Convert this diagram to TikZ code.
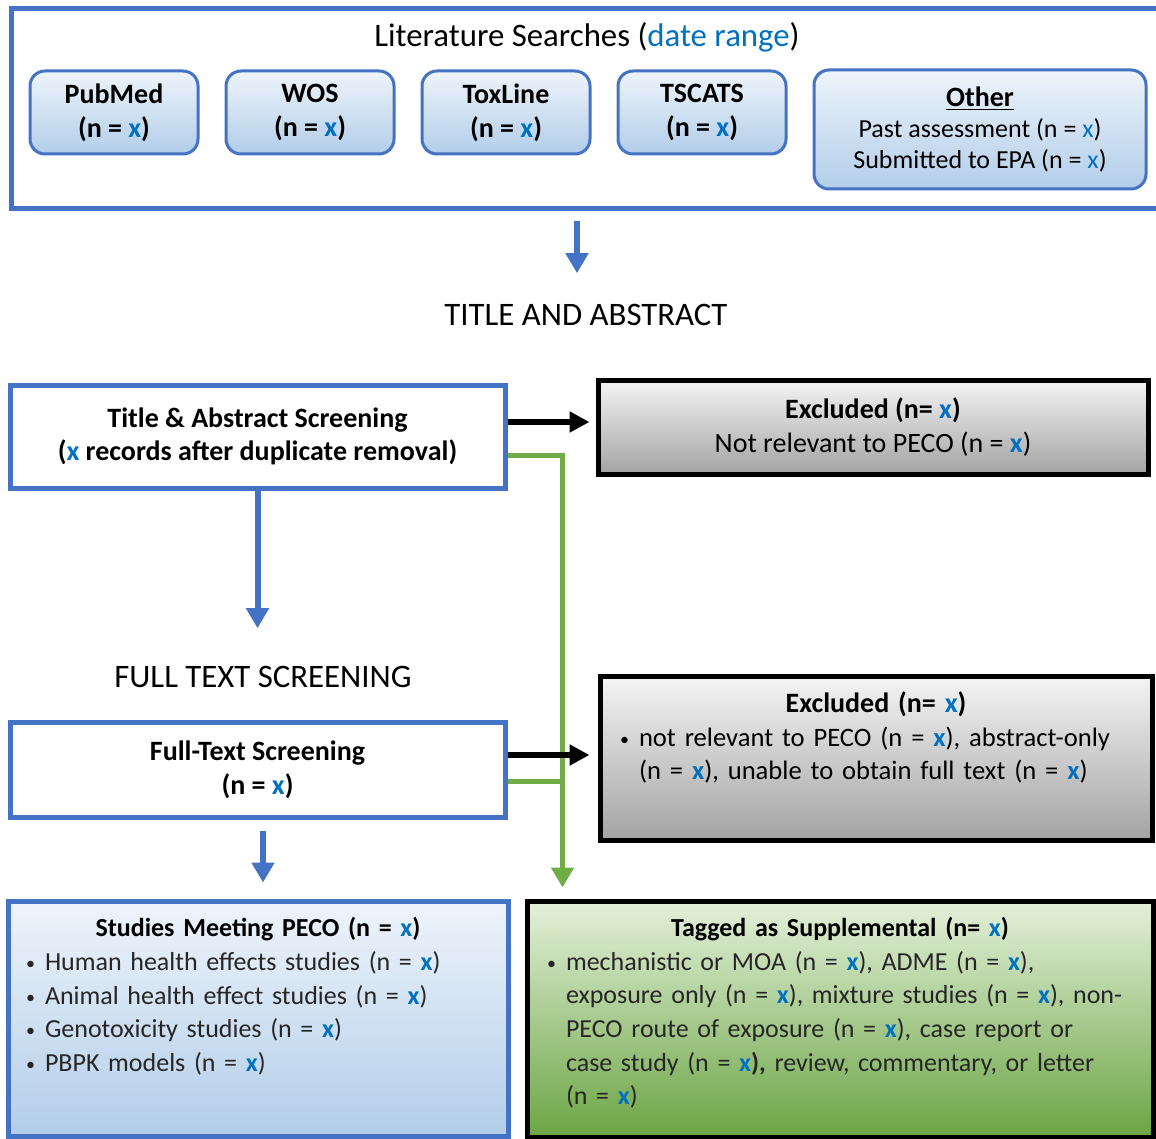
\documentclass[tikz,border=0pt]{standalone}
\usepackage{fontspec}
\setmainfont{Carlito}
\usetikzlibrary{arrows.meta, positioning, calc}
\definecolor{epablue}{HTML}{4472C4}
\definecolor{epagreen}{HTML}{70AD47}
\definecolor{xblue}{HTML}{0070C0}
\definecolor{boxtop}{HTML}{EEF4FB}
\definecolor{boxbot}{HTML}{B2CDE9}
\definecolor{graytop}{HTML}{F4F4F4}
\definecolor{graybot}{HTML}{A3A3A3}
\definecolor{greentop}{HTML}{E4F0DA}
\definecolor{greenbot}{HTML}{6BA544}
\definecolor{textgray}{HTML}{262626}
\newcommand{\xval}{\textcolor{xblue}{x}}
\newcommand{\xbold}{\textcolor{xblue}{\textbf{x}}}
\newcommand{\bul}{\makebox[9.5pt][l]{\raisebox{0.5pt}{\fontsize{9}{9}\selectfont\textbullet}}}
\newcommand{\bulskip}{\hspace*{9.5pt}}

\tikzset{
  basefont/.style={font=\fontsize{13}{16.8}\selectfont},
  bigfont/.style={font=\fontsize{14}{16.8}\selectfont},
  dbbox/.style={draw=epablue, line width=1.5pt, rounded corners=7.5pt,
    top color=boxtop, bottom color=boxbot, minimum width=84pt,
    minimum height=41.5pt, align=center, inner sep=0pt, bigfont},
  stepbox/.style={draw=epablue, line width=2.5pt, fill=white,
    minimum width=247.5pt, align=center, inner sep=0pt, bigfont},
  exclbox/.style={draw=black, line width=2.5pt, top color=graytop,
    bottom color=graybot, inner sep=0pt, bigfont},
  heading/.style={font=\fontsize{16.4}{18}\selectfont},
  bluearrow/.style={draw=epablue, line width=3pt, -{Triangle[length=10pt,width=11pt]}},
  blackarrow/.style={draw=black, line width=3pt, -{Triangle[length=10pt,width=10pt]}},
  greenline/.style={draw=epagreen, line width=2.5pt, -{Triangle[length=10pt,width=11pt]}},
}

\begin{document}
\begin{tikzpicture}[x=0.5pt, y=-0.5pt]
    \useasboundingbox (0,0) rectangle (1156,1139);

    % literature searches
    \node[draw=epablue, line width=2.5pt, minimum width=581pt, minimum height=100pt,
      anchor=north west, inner sep=0pt] (search) at (9,6) {};
    \node[heading] (searchtitle) at (587,37)
      {Literature Searches (\textcolor{xblue}{date range})};

    \node[dbbox] (pubmed) at (114,112.5) {\textbf{PubMed}\\\textbf{(n = \xval)}};
    \node[dbbox, right=12.5pt of pubmed] (wos) {\textbf{WOS}\\\textbf{(n = \xval)}};
    \node[dbbox, right=12.5pt of wos] (toxline) {\textbf{ToxLine}\\\textbf{(n = \xval)}};
    \node[dbbox, right=12.5pt of toxline] (tscats) {\textbf{TSCATS}\\\textbf{(n = \xval)}};
    \node[dbbox, minimum width=166pt, minimum height=59.5pt, anchor=north west,
      font=\fontsize{13}{15.5}\selectfont] (other) at ([xshift=12.5pt, yshift=0.5pt]tscats.north east)
      {{\fontsize{14}{15.5}\selectfont\textbf{\underline{Other}}}\\
       Past assessment (n = \xval)\\Submitted to EPA (n = \xval)};

    % title and abstract
    \node[heading] (tahead) at (586,315) {TITLE AND ABSTRACT};
    \node[stepbox, minimum height=51.5pt] (ta) at (257.5,436.5)
      {\textbf{Title \& Abstract Screening}\\\textbf{(\xval{} records after duplicate removal)}};
    \node[exclbox, minimum width=275pt, minimum height=47pt, align=center] (excl1) at (873,427)
      {\textbf{Excluded (n= \xval)}\\Not relevant to PECO (n = \xbold)};

    % full text
    \node[heading] (fthead) at (263,677) {FULL TEXT SCREENING};
    \node[stepbox, minimum height=47.5pt] (ft) at (257.5,769.5)
      {\textbf{Full-Text Screening}\\\textbf{(n = \xval)}};
    \node[exclbox, minimum width=276pt, minimum height=82pt, inner xsep=10pt,
      text width=256pt, font=\fontsize{13.3}{16.8}\selectfont] (excl2) at (876,758)
      {\centering{\fontsize{14}{16.8}\selectfont\textbf{Excluded (n= \xval)}}\par\raggedright
       \bul not relevant to PECO (n = \xbold), abstract-only\\
       \bulskip(n = \xbold), unable to obtain full text (n = \xbold)\rule[-22pt]{0pt}{0pt}};

    % results
    \node[draw=epablue, line width=2.5pt, top color=boxtop, bottom color=boxbot,
      minimum width=250pt, minimum height=117.5pt, inner sep=0pt, inner xsep=9pt,
      text width=232pt, basefont, text=textgray] (peco) at (258,1018.5)
      {\centering\textcolor{black}{\textbf{Studies Meeting PECO (n = \xval)}}\par\raggedright
       \bul Human health effects studies (n = \xbold)\\
       \bul Animal health effect studies (n = \xbold)\\
       \bul Genotoxicity studies (n = \xbold)\\
       \bul PBPK models (n = \xbold)\rule[-24pt]{0pt}{0pt}};
    \node[draw=black, line width=2.5pt, top color=greentop, bottom color=greenbot,
      minimum width=313pt, minimum height=118pt, inner sep=0pt, inner xsep=10pt,
      text width=293pt, basefont, text=textgray] (supp) at (840,1019)
      {\centering\textcolor{black}{\textbf{Tagged as Supplemental (n= \xval)}}\par\raggedright
       \bul mechanistic or MOA (n = \xbold), ADME (n = \xbold),\\
       \bulskip exposure only (n = \xbold), mixture studies (n = \xbold), non-\\
       \bulskip PECO route of exposure (n = \xbold), case report or\\
       \bulskip case study (n = \xbold\textbf{),} review, commentary, or letter\\
       \bulskip (n = \xbold)\rule[-8pt]{0pt}{0pt}};

    % connectors
    \coordinate (gdrop) at ([xshift=19pt, yshift=5.5pt]supp.north west);
    \draw[bluearrow] ($(tahead.north |- search.south)+(-4.5pt,-5pt)$) -- ($(tahead.north)+(-4.5pt,12pt)$);
    \draw[blackarrow, shorten >=3pt] ($(ta.east)+(0,7.25pt)$) -- ($(ta.east -| excl1.west)+(0,7.25pt)$);
    \draw[greenline] ($(ta.east)+(0,-9.25pt)$) -| (gdrop);
    \draw[bluearrow] (ta.south) -- ($(ta.south |- fthead.north)+(0,15.5pt)$);
    \draw[blackarrow, shorten >=4pt] ($(ft.east)+(0,7.25pt)$) -- ($(ft.east -| excl2.west)+(0,7.25pt)$);
    \draw[greenline, -] ($(ft.east)+(0,-5.75pt)$) -- ($(ft.east -| gdrop)+(0,-5.75pt)$);
    \draw[bluearrow] ($(fthead.south |- ft.south)+(0,-5.5pt)$) -- ($(fthead.south |- peco.north)+(0,8pt)$);
\end{tikzpicture}
\end{document}
